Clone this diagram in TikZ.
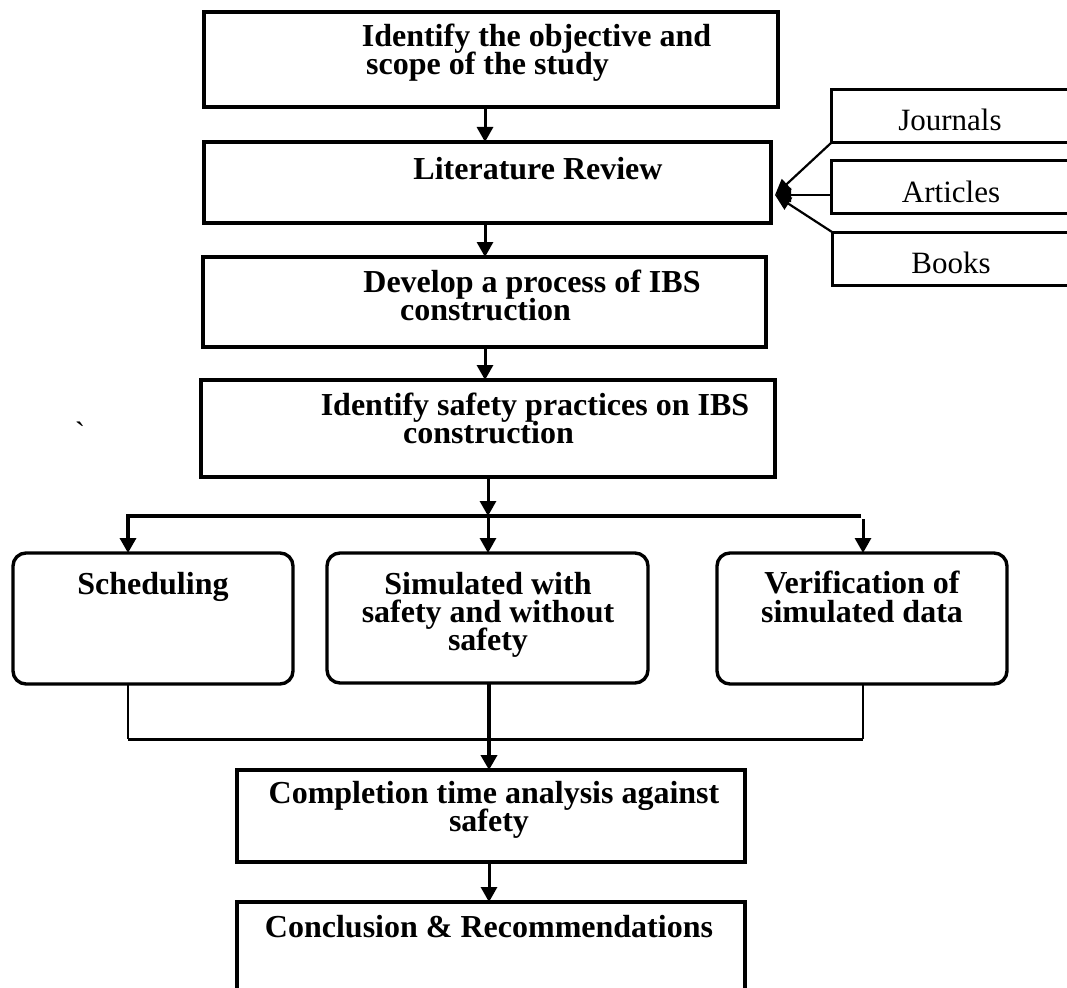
\documentclass[tikz,border=0pt]{standalone}
\usepackage{fontspec}
\setmainfont{Liberation Serif}
\newfontfamily\gravefont[Ligatures=TeXOff]{Liberation Serif}
\usetikzlibrary{arrows.meta,calc}
\begin{document}
\begin{tikzpicture}[x=1pt,y=-1pt,
  box/.style={draw, line width=3.2pt, inner sep=0pt, outer sep=0pt},
  rbox/.style={box, rounded corners=13pt, line width=3.4pt},
  sbox/.style={draw, line width=3pt, inner sep=0pt, outer sep=0pt},
  lbl/.style={inner sep=0pt, anchor=base, text height=21pt, text depth=5pt, font=\fontsize{32}{34}\selectfont\bfseries},
  side/.style={inner sep=0pt, anchor=base, text height=21pt, text depth=5pt, font=\fontsize{31}{33}\selectfont},
  arr/.style={line width=3pt, -{Triangle[length=15pt,width=16pt]}},
  sarr/.style={line width=2.2pt, -{Triangle[length=16pt,width=14pt]}},
  thinline/.style={line width=2.2pt},
  busline/.style={line width=3.4pt}
]
\useasboundingbox (0,0) rectangle (1067,987);

% main boxes
\node[box, minimum width=574pt, minimum height=95pt] (b1) at (491,59.5) {};
\node[box, minimum width=567pt, minimum height=81pt] (b2) at (487.5,182.5) {};
\node[box, minimum width=563pt, minimum height=90pt] (b3) at (484.5,302) {};
\node[box, minimum width=574pt, minimum height=97pt] (b4) at (488,428.5) {};
\node[rbox, minimum width=280pt, minimum height=131pt] (c1) at (153,618.5) {};
\node[rbox, minimum width=321pt, minimum height=130pt] (c2) at (487.5,618) {};
\node[rbox, minimum width=290pt, minimum height=131pt] (c3) at (862,618.5) {};
\node[box, minimum width=508pt, minimum height=92pt] (b5) at (491,816) {};
\node[box, minimum width=508pt, minimum height=88pt] (b6) at (491,946) {};

% side boxes
\node[sbox, minimum width=279pt, minimum height=53pt] (jo) at (970.5,116.5) {};
\node[sbox, minimum width=279pt, minimum height=52pt] (ar) at (970.5,187) {};
\node[sbox, minimum width=278pt, minimum height=53pt] (bo) at (971,258.5) {};

% texts
\node[lbl] (t1a) at (536.5,47) {Identify the objective and};
\node[lbl] (t1b) at (487.5,75) {scope of the study};
\node[lbl] (t2) at (538,179) {Literature Review};
\node[lbl] (t3a) at (532,292) {Develop a process of IBS};
\node[lbl] (t3b) at (485.5,320) {construction};
\node[lbl] (t4a) at (535,415) {Identify safety practices on IBS};
\node[lbl] (t4b) at (488.5,443) {construction};
\node[lbl] (tc1) at (153,594) {Scheduling};
\node[lbl] (tc2a) at (488,594) {Simulated with};
\node[lbl] (tc2b) at (488,622) {safety and without};
\node[lbl] (tc2c) at (488,650) {safety};
\node[lbl] (tc3a) at (862,593) {Verification of};
\node[lbl] (tc3b) at (862,622) {simulated data};
\node[lbl] (t5a) at (494,803) {Completion time analysis against};
\node[lbl] (t5b) at (489,831) {safety};
\node[lbl] (t6) at (489,937) {Conclusion \& Recommendations};
\node[side] (tj) at (950,131) {Journals};
\node[side] (ta) at (951,202) {Articles};
\node[side] (tb) at (951,273) {Books};
\node[side, font=\fontsize{31}{33}\selectfont\gravefont] (bt) at (80,443) {\char"60};

% vertical flow arrows
\draw[arr] ([xshift=-6pt]b1.south) -- ([xshift=-6pt]b1.south |- b2.north);
\draw[arr] ([xshift=-2.5pt]b2.south) -- ([xshift=-2.5pt]b2.south |- b3.north);
\draw[arr] ([xshift=0.5pt]b3.south) -- ([xshift=0.5pt]b3.south |- b4.north);

% split
\coordinate (spL) at (128,516);
\coordinate (spM) at (488,516);
\coordinate (spR) at (861,516);
\coordinate (spR2) at (863,519);
\draw[arr] (b4.south) -- (spM);
\draw[busline, -{Triangle[length=15pt,width=16pt]}] (spR) -- (spL) -- (spL |- c1.north);
\draw[arr] (spM) -- (spM |- c2.north);
\draw[arr] (spR2) -- (spR2 |- c3.north);

% merge
\coordinate (mL) at (128,739);
\coordinate (mR) at (863,739);
\draw[thinline] (mL |- c1.south) -- (mL);
\draw[thinline] (mR |- c3.south) -- (mR);
\draw[line width=3pt] (mL) -- (mR);
\draw[line width=4.5pt, -{Triangle[length=15pt,width=16pt]}] ([xshift=1.5pt]c2.south) -- ([xshift=1.5pt]c2.south |- b5.north);
\draw[arr] ([xshift=-2pt]b5.south) -- ([xshift=-2pt]b5.south |- b6.north);

% side arrows
\coordinate (tip) at (775,195);
\draw[sarr] (jo.south west) -- (tip);
\draw[sarr] (ar.west |- tip) -- (tip);
\draw[sarr] (bo.north west) -- (tip);
\end{tikzpicture}
\end{document}
